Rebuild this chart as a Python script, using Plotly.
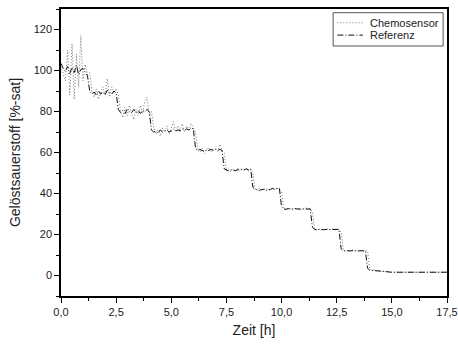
import numpy as np
import plotly.graph_objects as go

# sample times [h] (0.0 ... 15.0 every 0.1 h, then end of record)
time_h = list(np.round(np.arange(0, 15.05, 0.1), 1)) + [17.5]

referenz = [
    103.5, 101, 99.5, 102, 98.5, 101.5, 99, 102.5, 98, 100.5,
    101, 99.5, 97.5, 90, 88.5, 89.5, 88, 90, 88.5, 89.5,
    88, 90.5, 89, 88.5, 90, 89, 81, 79.5, 80.5, 79,
    81, 80, 79.5, 81, 79.5, 80.5, 79, 80.5, 80, 81,
    80, 71, 70, 70.5, 69.5, 71, 70, 70.5, 71, 70,
    70.5, 71.5, 70.5, 71, 70.5, 71.5, 71, 71.5, 71, 72,
    71.5, 62, 61, 61.5, 61, 60.5, 61.5, 61, 61.5, 61,
    61.5, 61, 61.5, 61, 52, 51.5, 51, 51.5, 51.5, 51,
    51.5, 52, 51.5, 51.5, 52, 51.5, 52, 43, 42, 42,
    41.5, 42, 42, 41.5, 42, 42, 42.5, 42, 42.5, 42.5,
    33.5, 32.5, 32.3, 32.6, 32.4, 32.5, 32.7, 32.4, 32.5, 32.6,
    32.5, 32.4, 32.6, 32.5, 23.5, 22.5, 22.4, 22.6, 22.5, 22.3,
    22.5, 22.6, 22.4, 22.5, 22.6, 22.5, 22.5, 13, 12, 12.1,
    11.9, 12, 12.1, 12, 11.9, 12, 12.1, 12, 12, 3.5,
    2.5, 2.5, 2.4, 2.3, 2.4, 2.2, 2.0, 2.0, 1.8, 1.7,
    1.6, 1.6,
]

chemosensor = [
    102, 99, 95, 110, 88, 113, 86, 108, 92, 117,
    95, 103, 98, 99, 90, 87, 91, 86, 89, 92,
    88, 96, 87, 92, 89, 91, 88, 80, 77, 82,
    78, 83, 79, 76, 81, 78, 83, 79, 85, 87,
    78, 80, 72, 69, 71, 68, 72, 70, 73, 69,
    72, 75, 70, 73, 71, 74, 70, 73, 71, 74,
    72, 70, 61, 60, 62, 59.5, 61, 62.5, 60.5, 61.5,
    62, 60.5, 64, 61, 60, 51, 52, 50.5, 52, 51,
    52.5, 51, 52, 51.5, 52.5, 51, 52, 50, 42, 41.5,
    42.5, 41.5, 42, 42.5, 41.5, 42, 42.5, 42, 42.5, 42,
    41, 32.5, 32, 33, 32.5, 32, 32.5, 33, 32.5, 32,
    32.5, 33, 32.5, 32.5, 31, 22.5, 22, 22.8, 22.3, 22.6,
    22.2, 22.7, 22.4, 22.8, 22.3, 22.6, 22.5, 21, 12.5, 11.5,
    12.3, 11.8, 12.4, 11.9, 12.2, 11.7, 12.3, 11.9, 12.1, 12,
    3.0, 2.5, 2.8, 2.3, 2.6, 2.2, 2.1, 2.0, 1.8, 1.7,
    1.6, 1.6,
]

series_names = ["Chemosensor", "Referenz"]

FONT = "Liberation Sans, Arial, sans-serif"
CHEMO_LINE = dict(color="#777777", width=1, dash="1px,2px")
REF_LINE = dict(color="#111111", width=1, dash="6px,2px,1px,2px")

fig = go.Figure()
fig.add_trace(go.Scatter(x=time_h, y=chemosensor, mode="lines", name=series_names[0],
                         line=CHEMO_LINE, showlegend=False))
fig.add_trace(go.Scatter(x=time_h, y=referenz, mode="lines", name=series_names[1],
                         line=REF_LINE, showlegend=False))

axis_common = dict(showline=True, linecolor="black", linewidth=1.5, mirror=True,
                   showgrid=False, zeroline=False, ticks="outside", tickcolor="black",
                   tickwidth=1, automargin=False, ticklabeloverflow="allow",
                   tickfont=dict(size=11, color="#222", family=FONT))

fig.update_xaxes(range=[0, 17.5], dtick=2.5, tick0=0, tickformat=".1f", ticklen=5,
                 minor=dict(dtick=1.25, ticklen=3, ticks="outside", tickcolor="black"),
                 title=dict(text="Zeit [h]", font=dict(size=14, color="#222", family=FONT), standoff=8),
                 **axis_common)
fig.update_yaxes(range=[-10, 130], dtick=20, tick0=0, ticklen=5,
                 minor=dict(dtick=10, ticklen=3, ticks="outside", tickcolor="black"),
                 title=dict(text="Gelöstsauerstoff [%-sat]", font=dict(size=14, color="#222", family=FONT), standoff=10),
                 **axis_common)

# compact framed legend (Origin style)
fig.add_shape(type="rect", xref="paper", yref="paper", x0=0.705, x1=0.990, y0=0.871, y1=0.987,
              line=dict(color="#555", width=1), fillcolor="white", layer="above")
for name, style, yy in [(series_names[0], CHEMO_LINE, 0.952), (series_names[1], REF_LINE, 0.909)]:
    fig.add_shape(type="line", xref="paper", yref="paper", x0=0.716, x1=0.782, y0=yy, y1=yy,
                  line=style, layer="above")
    fig.add_annotation(xref="paper", yref="paper", x=0.795, y=yy, xanchor="left", yanchor="middle",
                       text=name, showarrow=False, font=dict(size=11, family=FONT, color="#222"))

fig.update_layout(
    width=458, height=345,
    margin=dict(l=61, r=11, t=9, b=49, autoexpand=False),
    paper_bgcolor="white", plot_bgcolor="white",
    separators=",.",
    font=dict(family=FONT, color="#222"),
    showlegend=False,
)

fig.write_html("out.html", config={"displayModeBar": False},
               post_script="document.body.style.margin='0';document.body.style.overflow='hidden';")
